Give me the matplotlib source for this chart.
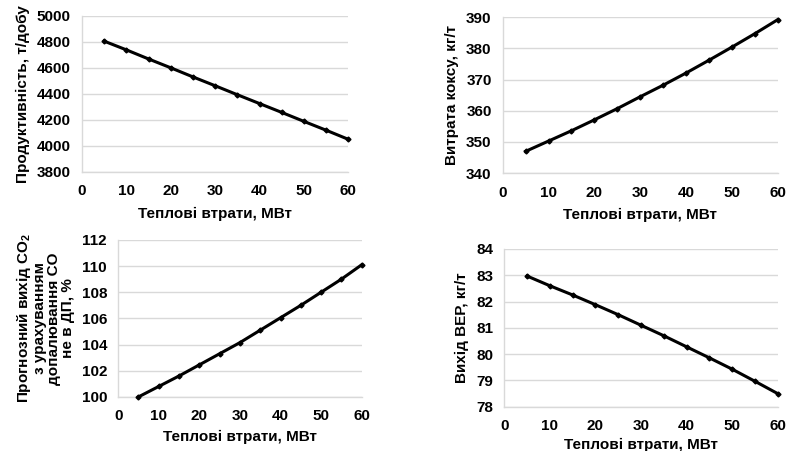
import matplotlib
matplotlib.use("Agg")
import matplotlib.pyplot as plt

plt.rcParams['font.family'] = ['Liberation Sans', 'DejaVu Sans']
plt.rcParams['font.weight'] = 'bold'
plt.rcParams['mathtext.fontset'] = 'custom'
plt.rcParams['mathtext.rm'] = 'Liberation Sans:bold'
plt.rcParams['mathtext.bf'] = 'Liberation Sans:bold'
plt.rcParams['mathtext.default'] = 'bf'

heat_loss = [5, 10, 15, 20, 25, 30, 35, 40, 45, 50, 55, 60]
productivity = [4805, 4738, 4668, 4600, 4530, 4462, 4393, 4325, 4257, 4188, 4120, 4050]
coke_rate = [347.0, 350.3, 353.6, 357.1, 360.7, 364.5, 368.2, 372.1, 376.2, 380.4, 384.7, 389.2]
co2_output = [100.0, 100.8, 101.6, 102.45, 103.3, 104.15, 105.1, 106.05, 107.0, 108.0, 109.0, 110.1]
ver_output = [82.97, 82.6, 82.25, 81.88, 81.5, 81.1, 80.7, 80.28, 79.86, 79.43, 78.97, 78.5]

x_label = "Теплові втрати, МВт"
x_ticks = [0, 10, 20, 30, 40, 50, 60]

panels = [
    dict(pos=[0.104, 0.619, 0.338, 0.346], y=productivity, ylim=(3800, 5000),
         yticks=[3800, 4000, 4200, 4400, 4600, 4800, 5000],
         ylabel="Продуктивність, т/добу", xpad=6),
    dict(pos=[0.638, 0.616, 0.349, 0.346], y=coke_rate, ylim=(340, 390),
         yticks=[340, 350, 360, 370, 380, 390],
         ylabel="Витрата коксу, кг/т", xpad=6),
    dict(pos=[0.150, 0.120, 0.309, 0.348], y=co2_output, ylim=(100, 112),
         yticks=[100, 102, 104, 106, 108, 110, 112],
         ylabel="Прогнозний вихід CO$_2$\nз урахуванням\nдопалювання CO\nне в ДП, %", xpad=5),
    dict(pos=[0.640, 0.098, 0.347, 0.350], y=ver_output, ylim=(78, 84),
         yticks=[78, 79, 80, 81, 82, 83, 84],
         ylabel="Вихід ВЕР, кг/т", xpad=3),
]

fig = plt.figure(figsize=(7.88, 4.51), dpi=100)
for p in panels:
    ax = fig.add_axes(p['pos'])
    ax.plot(heat_loss, p['y'], color='black', lw=2.2, marker='D', ms=2.5,
            zorder=3, clip_on=False)
    ax.set_xlim(0, 60)
    ax.set_ylim(*p['ylim'])
    ax.set_xticks(x_ticks)
    ax.set_yticks(p['yticks'])
    ax.grid(axis='y', color='#d9d9d9', lw=1)
    ax.set_axisbelow(True)
    for s in ['top', 'right']:
        ax.spines[s].set_visible(False)
    for s in ['left', 'bottom']:
        ax.spines[s].set_color('#d9d9d9')
        ax.spines[s].set_linewidth(1)
    ax.tick_params(axis='x', length=0, labelsize=11, pad=9)
    ax.tick_params(axis='y', length=0, labelsize=11, pad=8)
    for lab in ax.get_xticklabels() + ax.get_yticklabels():
        lab.set_fontweight('bold')
    ax.set_xlabel(x_label, fontsize=11, fontweight='bold', labelpad=p['xpad'])
    ax.set_ylabel(p['ylabel'], fontsize=11, fontweight='bold', labelpad=5,
                  linespacing=1.0)

fig.savefig("out.png", dpi=100)
